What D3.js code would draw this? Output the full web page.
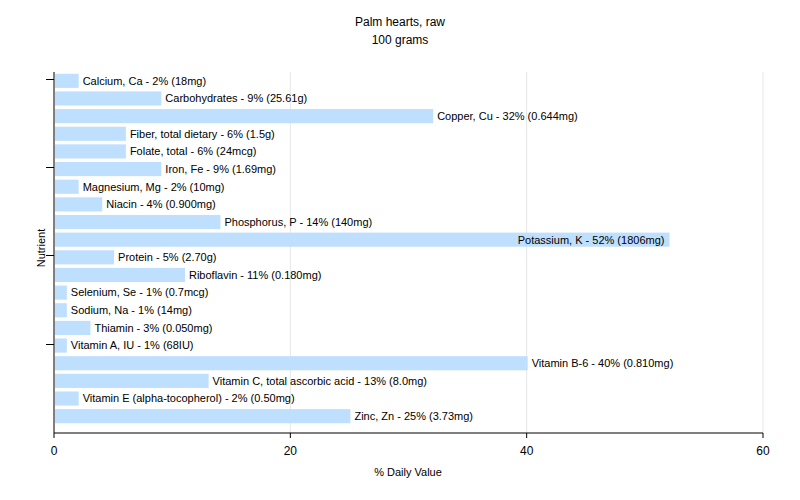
<!DOCTYPE html>
<html><head><meta charset="utf-8">
<script src="https://cdn.jsdelivr.net/npm/d3@7"></script>
<style>body{margin:0;background:#fff}text{font-family:"Liberation Sans",Arial,sans-serif}</style>
</head><body><div id="chart"></div>
<script>
const names = ["Calcium, Ca", "Carbohydrates", "Copper, Cu", "Fiber, total dietary", "Folate, total", "Iron, Fe", "Magnesium, Mg", "Niacin", "Phosphorus, P", "Potassium, K", "Protein", "Riboflavin", "Selenium, Se", "Sodium, Na", "Thiamin", "Vitamin A, IU", "Vitamin B-6", "Vitamin C, total ascorbic acid", "Vitamin E (alpha-tocopherol)", "Zinc, Zn"];
const values = [2, 9, 32, 6, 6, 9, 2, 4, 14, 52, 5, 11, 1, 1, 3, 1, 40, 13, 2, 25];
const amounts = ["18mg", "25.61g", "0.644mg", "1.5g", "24mcg", "1.69mg", "10mg", "0.900mg", "140mg", "1806mg", "2.70g", "0.180mg", "0.7mcg", "14mg", "0.050mg", "68IU", "0.810mg", "8.0mg", "0.50mg", "3.73mg"];
const xTicks = [0, 20, 40, 60];

const W = 800, H = 500, L = 54, R = 763, T = 72, B = 433;
const svg = d3.select('#chart').append('svg').attr('width', W).attr('height', H);
const x = d3.scaleLinear().domain([0, 60]).range([L, R]);
const y = d3.scaleBand().domain(names).range([T, 425]).paddingInner(0.2).paddingOuter(0.1);

// grid
svg.selectAll('.grid').data(xTicks.slice(1)).join('line')
  .attr('x1', d => x(d)).attr('x2', d => x(d)).attr('y1', T).attr('y2', B)
  .attr('stroke', '#e6e6e6');

// bars
svg.selectAll('.bar').data(names).join('rect')
  .attr('x', L + 1).attr('y', d => y(d))
  .attr('width', (d, i) => x(values[i]) - L).attr('height', y.bandwidth())
  .attr('fill', '#bfdfff');

svg.selectAll('.lbl').data(names).join('text')
  .attr('x', (d, i) => values[i] > 45 ? x(values[i]) - 4 : x(values[i]) + 5)
  .attr('text-anchor', (d, i) => values[i] > 45 ? 'end' : 'start')
  .attr('y', d => y(d) + y.bandwidth() / 2).attr('dy', '0.35em')
  .attr('font-size', 11).attr('fill', '#000')
  .text((d, i) => `${d} - ${values[i]}% (${amounts[i]})`);

// axes
svg.append('line').attr('x1', L).attr('x2', L).attr('y1', T).attr('y2', B).attr('stroke', '#000');
svg.append('line').attr('x1', L).attr('x2', R).attr('y1', B).attr('y2', B).attr('stroke', '#000');
[0, 5, 10, 15].forEach(i => {
  const yy = Math.round(y(names[i]) + y.bandwidth() / 2) - 1.5;
  svg.append('line').attr('x1', L - 8).attr('x2', L).attr('y1', yy).attr('y2', yy).attr('stroke', '#000');
});
svg.selectAll('.xt').data(xTicks).join('line')
  .attr('x1', d => x(d)).attr('x2', d => x(d)).attr('y1', B).attr('y2', B + 5).attr('stroke', '#000');
svg.selectAll('.xl').data(xTicks).join('text')
  .attr('x', d => x(d)).attr('y', B + 22).attr('text-anchor', 'middle')
  .attr('font-size', 12).text(d => d);

svg.append('text').attr('x', 400).attr('y', 26).attr('text-anchor', 'middle').attr('font-size', 12).text('Palm hearts, raw');
svg.append('text').attr('x', 400).attr('y', 44).attr('text-anchor', 'middle').attr('font-size', 12).text('100 grams');
svg.append('text').attr('x', 408).attr('y', 476).attr('text-anchor', 'middle').attr('font-size', 11).text('% Daily Value');
svg.append('text').attr('transform', 'translate(45,248) rotate(-90)').attr('text-anchor', 'middle').attr('font-size', 11).text('Nutrient');
</script></body></html>
